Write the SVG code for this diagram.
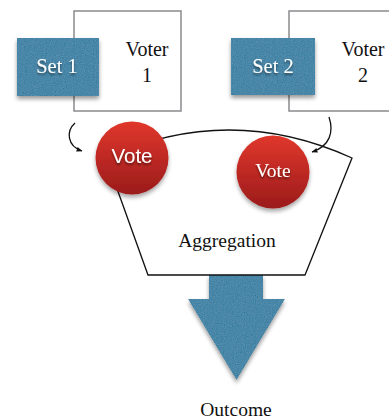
<svg xmlns="http://www.w3.org/2000/svg" width="389" height="419" viewBox="0 0 389 419">
<style>
.voter{fill:#fff;stroke:#8a8a8e;stroke-width:1.5}
.set{fill:#4a87a8}
.serif{font-family:"Liberation Serif","Times New Roman",serif;fill:#111}
.wl{fill:#fff;text-anchor:middle}
.vote{stroke:none}
.conn{fill:none;stroke:#111;stroke-width:1.3}
.agg{fill:#fff;stroke:#111;stroke-width:1.3}
</style>
<defs>
<filter id="tex" x="-20%" y="-20%" width="140%" height="150%">
<feTurbulence type="fractalNoise" baseFrequency="0.9" numOctaves="2" seed="3" result="n"/>
<feColorMatrix in="n" type="matrix" values="0.33 0.33 0.33 0 0 0.33 0.33 0.33 0 0 0.33 0.33 0.33 0 0 0 0 0 0 1" result="g"/>
<feComposite in="SourceGraphic" in2="g" operator="arithmetic" k1="0" k2="1" k3="0.2" k4="-0.1" result="t"/>
<feComposite in="t" in2="SourceGraphic" operator="in" result="tc"/>
<feGaussianBlur in="SourceAlpha" stdDeviation="2" result="b"/>
<feOffset in="b" dx="0" dy="3" result="o"/>
<feComponentTransfer in="o" result="s"><feFuncA type="linear" slope="0.4"/></feComponentTransfer>
<feMerge><feMergeNode in="s"/><feMergeNode in="tc"/></feMerge>
</filter>
<filter id="sh" x="-20%" y="-20%" width="140%" height="150%">
<feGaussianBlur in="SourceAlpha" stdDeviation="2" result="b"/>
<feOffset in="b" dx="0" dy="3" result="o"/>
<feComponentTransfer in="o" result="s"><feFuncA type="linear" slope="0.35"/></feComponentTransfer>
<feMerge><feMergeNode in="s"/><feMergeNode in="SourceGraphic"/></feMerge>
</filter>
<filter id="tsh" x="-20%" y="-20%" width="140%" height="160%">
<feGaussianBlur in="SourceAlpha" stdDeviation="1" result="b"/>
<feOffset in="b" dx="0" dy="1.5" result="o"/>
<feComponentTransfer in="o" result="s"><feFuncA type="linear" slope="0.5"/></feComponentTransfer>
<feMerge><feMergeNode in="s"/><feMergeNode in="SourceGraphic"/></feMerge>
</filter>
<linearGradient id="red" x1="0" y1="0" x2="0" y2="1">
<stop offset="0" stop-color="#e0372c"/>
<stop offset="1" stop-color="#9b1b1b"/>
</linearGradient>
<marker id="ah" viewBox="0 0 10 10" refX="9" refY="5" markerWidth="6" markerHeight="6" orient="auto" markerUnits="userSpaceOnUse">
<path d="M0,1 L10,5 L0,9 Z" fill="#111"/>
</marker>
</defs>

<g id="voter1">
<rect class="voter" x="74" y="11" width="107" height="100"/>
<text class="serif" x="147" y="56" font-size="20" text-anchor="middle">Voter</text>
<text class="serif" x="147" y="82" font-size="20" text-anchor="middle">1</text>
</g>
<g id="voter2">
<rect class="voter" x="289" y="11" width="110" height="100"/>
<text class="serif" x="363" y="56" font-size="20" text-anchor="middle">Voter</text>
<text class="serif" x="363" y="82" font-size="20" text-anchor="middle">2</text>
</g>
<g id="set1">
<rect class="set" x="17" y="38" width="82" height="58" filter="url(#tex)"/>
<text class="serif wl" x="57" y="73" font-size="20.5" filter="url(#tsh)">Set 1</text>
</g>
<g id="set2">
<rect class="set" x="231" y="38" width="84" height="57" filter="url(#tex)"/>
<text class="serif wl" x="273" y="73" font-size="20.5" filter="url(#tsh)">Set 2</text>
</g>

<g id="outcome-arrow">
<path class="set" d="M209,275 L263,275 L263,299 L285,299 L236.5,380 L188,299 L209,299 Z" filter="url(#tex)"/>
</g>

<g id="aggregation">
<path class="agg" d="M106,158 Q229,102 352,158 L305,275 L148,275 Z"/>
<text class="serif" x="227" y="247" font-size="19.5" text-anchor="middle">Aggregation</text>
</g>

<g id="connectors">
<path class="conn" d="M75,123 C66,131 67,146 82,151" marker-end="url(#ah)"/>
<path class="conn" d="M329,117 C334,132 330,146 312,152" marker-end="url(#ah)"/>
</g>

<g id="vote1">
<circle class="vote" cx="132" cy="158" r="36.5" fill="url(#red)" filter="url(#sh)"/>
<text x="132" y="163" font-family="Liberation Sans, Arial, sans-serif" font-size="20.5" class="wl" filter="url(#tsh)">Vote</text>
</g>
<g id="vote2">
<circle class="vote" cx="273" cy="172" r="36.5" fill="url(#red)" filter="url(#sh)"/>
<text x="273" y="177" font-size="19.5" class="serif wl" filter="url(#tsh)">Vote</text>
</g>

<g id="outcome">
<text class="serif" x="236" y="416" font-size="19.5" text-anchor="middle">Outcome</text>
</g>
</svg>
